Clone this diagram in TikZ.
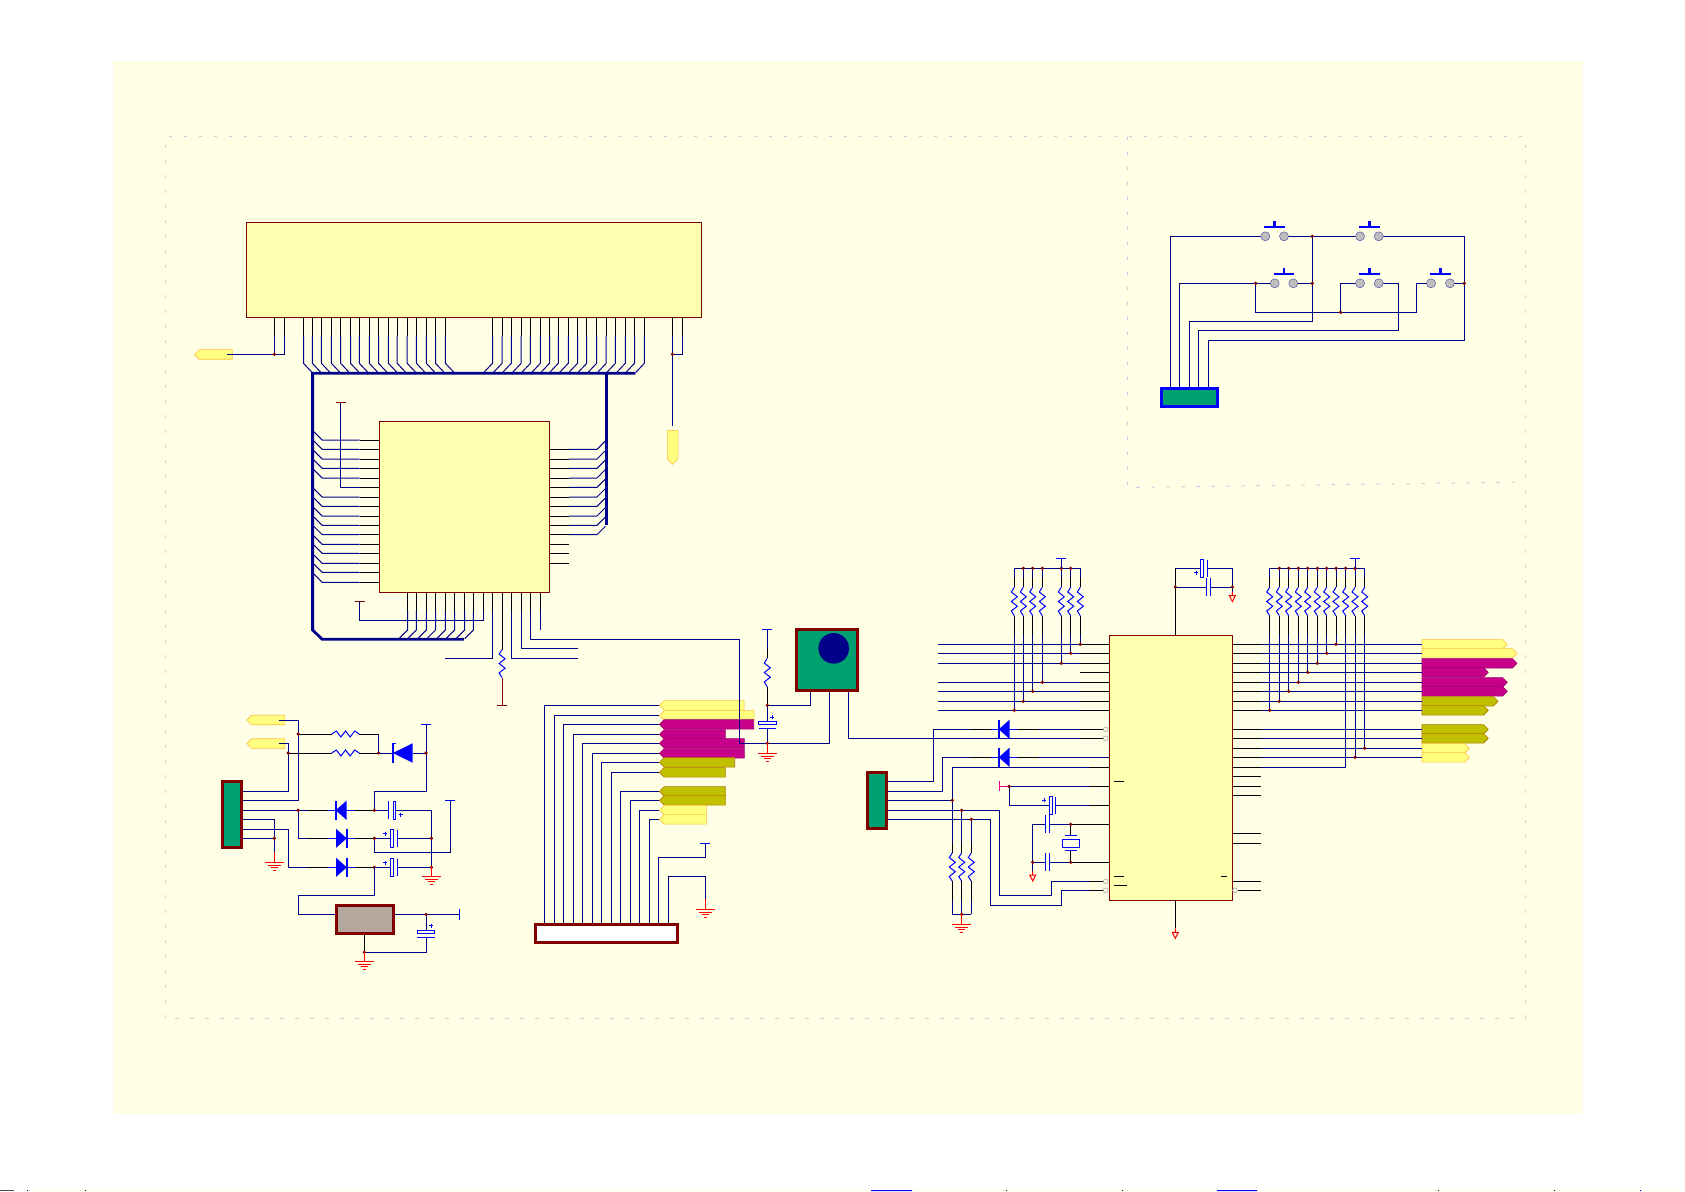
\documentclass[tikz,border=0pt]{standalone}
\usepackage{tikz}
\usetikzlibrary{shapes.symbols}
\definecolor{panelbg}{RGB}{255, 255, 230}
\definecolor{chipfill}{RGB}{255, 255, 176}
\definecolor{tagyel}{RGB}{255, 255, 128}
\definecolor{tagmag}{RGB}{198, 0, 136}
\definecolor{tagolv}{RGB}{192, 192, 0}
\definecolor{wirenavy}{RGB}{0, 0, 136}
\definecolor{darkred}{RGB}{128, 0, 0}
\definecolor{conngreen}{RGB}{0, 160, 112}
\definecolor{regfill}{RGB}{180, 168, 159}
\definecolor{framegray}{RGB}{205, 205, 228}
\tikzset{
  wire/.style={draw=wirenavy, line width=1pt},
  pinb/.style={draw=black, line width=0.9pt},
  bus/.style={draw=wirenavy, line width=2.8pt},
  part/.style={draw=blue, line width=1pt},
  chipbox/.style={draw=darkred, line width=1pt, fill=chipfill, inner sep=0pt},
  connbox/.style={draw=darkred, line width=3pt, fill=conngreen, inner sep=0pt},
  sigtag/.style={signal, inner sep=0pt, line width=0.6pt, minimum height=9.5pt, signal pointer angle=90},
  sigyel/.style={sigtag, fill=tagyel, draw=orange!50!tagyel},
  sigmag/.style={sigtag, fill=tagmag, draw=tagmag!80!black},
  sigolv/.style={sigtag, fill=tagolv, draw=tagolv!75!red!85!black},
}
\newcommand{\dotj}[2]{\fill[darkred] (#1,#2) circle (1.8pt);}
\newcommand{\resv}[4]{% x, wire top, body centre, wire bottom
  \draw[wire] (#1,#2) -- (#1,#3-24);
  \draw[pinb] (#1,#3-24) -- (#1,#3-14.2);
  \draw[part] (#1,#3-14.2) -- (#1-3,#3-9.5) -- (#1+3,#3-4.7) -- (#1-3,#3) -- (#1+3,#3+4.7) -- (#1-3,#3+9.5) -- (#1,#3+14.2);
  \draw[pinb] (#1,#3+14.2) -- (#1,#3+33);
  \draw[wire] (#1,#3+33) -- (#1,#4);}
\newcommand{\resh}[4]{% x left, centre, x right, y
  \draw[pinb] (#1,#4) -- (#2-13.8,#4);
  \draw[part] (#2-13.8,#4) -- (#2-9.2,#4-3) -- (#2-4.6,#4+3) -- (#2,#4-3) -- (#2+4.6,#4+3) -- (#2+9.2,#4-3) -- (#2+13.8,#4);
  \draw[pinb] (#2+13.8,#4) -- (#3,#4);}
\newcommand{\stubs}[3]{% left body edge, right body edge, y
  \draw[pinb] (#1-28,#3) -- (#1-8,#3);
  \draw[part] (#1-8,#3) -- (#1,#3);
  \draw[part] (#2,#3) -- (#2+8,#3);
  \draw[pinb] (#2+8,#3) -- (#2+28,#3);}
\newcommand{\diodel}[2]{% bar x, y
  \stubs{#1}{#1+10.8}{#2}
  \fill[blue] (#1,#2) -- (#1+10.8,#2-9.6) -- (#1+10.8,#2+9.6) -- cycle;
  \draw[blue, line width=1.6pt] (#1,#2-9.6) -- (#1,#2+9.6);}
\newcommand{\dioder}[2]{% base x, y
  \stubs{#1}{#1+10.8}{#2}
  \fill[blue] (#1+10.8,#2) -- (#1,#2-9.6) -- (#1,#2+9.6) -- cycle;
  \draw[blue, line width=1.6pt] (#1+10.8,#2-9.6) -- (#1+10.8,#2+9.6);}
\newcommand{\pcaph}[5]{% box x1, box x2, plate x, y, half height
  \fill[panelbg] (#1,#4-1) rectangle (#3,#4+1);
  \draw[part, fill=panelbg] (#1,#4-#5) rectangle (#2,#4+#5);
  \draw[part] (#3,#4-#5) -- (#3,#4+#5);}
\newcommand{\pcapv}[4]{% x, box y1, box y2, plate y
  \fill[panelbg] (#1-1,#2) rectangle (#1+1,#4);
  \draw[part, fill=panelbg] (#1-8.7,#2) rectangle (#1+8.7,#3);
  \draw[part] (#1-8.7,#4) -- (#1+8.7,#4);}
\newcommand{\caph}[3]{% plate x1, plate x2, y
  \fill[panelbg] (#1,#3-1) rectangle (#2,#3+1);
  \draw[part] (#1,#3-9) -- (#1,#3+9);
  \draw[part] (#2,#3-9) -- (#2,#3+9);}
\newcommand{\plusm}[2]{\draw[part] (#1-2,#2) -- (#1+2,#2) (#1,#2-2) -- (#1,#2+2);}
\newcommand{\gnd}[2]{% x, y of top bar
  \draw[red, line width=1pt] (#1,#2-10) -- (#1,#2)
    (#1-9.6,#2) -- (#1+9.6,#2) (#1-6.3,#2+3) -- (#1+6.3,#2+3)
    (#1-3.4,#2+5.6) -- (#1+3.4,#2+5.6) (#1-1.4,#2+8.2) -- (#1+1.4,#2+8.2);}
\newcommand{\gtri}[2]{% x, y of triangle top
  \draw[red, line width=1pt] (#1,#2-4) -- (#1,#2) (#1-3,#2) -- (#1+3,#2) -- (#1,#2+6) -- cycle;}
\newcommand{\tbar}[3]{\draw[#3, line width=1pt] (#1-5,#2) -- (#1+5,#2);}
\newcommand{\swt}[3]{% circle x1, circle x2, y
  \draw[blue!35!gray, fill=black!25, line width=0.5pt] (#1,#3) circle (4.5pt) (#2,#3) circle (4.5pt);
  \draw[blue, line width=2.4pt] (#1-1,#3-9.4) -- (#2+1,#3-9.4);
  \draw[blue, line width=2.4pt] ({(#1+#2)/2},#3-9.4) -- ({(#1+#2)/2},#3-15.3);}
\newcommand{\holc}[2]{\draw[black!35, fill=panelbg, line width=0.6pt] (#1,#2) circle (2.4pt);}

\begin{document}
\begin{tikzpicture}[x=1pt, y=-1pt]
\useasboundingbox (0,0) rectangle (1685,1191);
\fill[white] (0,0) rectangle (1685,1191);
\fill[panelbg] (113,61) rectangle (1583.3,1114);
% bottom row
\fill[panelbg] (28,1190) rectangle (1685,1191);
\fill[blue] (871,1190) rectangle (912,1191) (1217,1190) rectangle (1257,1191) (1640,1190) rectangle (1641,1191);
\foreach \tx in {27,85,1006,1122,1438,1554}
  \fill[black] (\tx,1190) rectangle (\tx+1,1191);
\fill[black!70] (0,1190) rectangle (14,1191);

% frames
\draw[framegray, line width=1pt, dash pattern=on 3.5pt off 11.5pt] (165.4,1018.3) -- (165.4,136.6) -- (1525.4,136.6) -- (1525.4,1018.3) -- cycle;
\draw[framegray, line width=1pt, dash pattern=on 3.5pt off 11.5pt] (1127.3,136.6) -- (1127.3,487.5) -- (1525.4,482);

% chips and connectors
\node[chipbox, minimum width=455pt, minimum height=95pt] (lcd) at (474,269.8) {};
\node[chipbox, minimum width=170.3pt, minimum height=171.4pt] (mcu) at (464.35,507) {};
\node[chipbox, minimum width=123pt, minimum height=265pt] (dec) at (1170.8,767.8) {};
\node[connbox, minimum width=19pt, minimum height=66pt] (jpwr) at (232.2,814.5) {};
\node[connbox, minimum width=18.5pt, minimum height=56pt] (jir) at (877,800.8) {};
\node[connbox, draw=blue, minimum width=56pt, minimum height=18.5pt] (jkey) at (1189.5,397.4) {};
\node[connbox, fill=regfill, minimum width=56.5pt, minimum height=27.5pt] (reg) at (365.1,919.3) {};
\node[connbox, fill=white, minimum width=141.5pt, minimum height=17.5pt] (jfpc) at (606.5,933.4) {};
\node[connbox, minimum width=60.5pt, minimum height=61pt] (tuner) at (826.8,660.2) {};
\fill[wirenavy] (833.7,648.3) circle (15.3pt);

% signal tags
\node[sigyel, signal to=west, anchor=west, minimum width=38pt] (ttop) at (194,354.5) {};
\node[sigyel, signal to=south, anchor=north, minimum width=10.7pt, minimum height=28.7pt] (tdown) at (672.7,430) {};
\node[sigyel, signal to=west, anchor=west, minimum width=38pt] (tpa) at (246.4,720) {};
\node[sigyel, signal to=west, anchor=west, minimum width=38pt] (tpb) at (246.4,743.5) {};
\foreach \ti/\ty/\tw/\ts in {1/705.3/84.7/sigyel, 2/715.3/94.7/sigyel, 3/724.3/94.3/sigmag, 4/734.3/66/sigmag,
    5/743.3/85/sigmag, 6/753.3/85/sigmag, 7/762.3/75.3/sigolv, 8/772.3/66/sigolv,
    9/791.3/66/sigolv, 10/800.3/66/sigolv, 11/810.3/47/sigyel, 12/819.3/47/sigyel}
  \node[\ts, signal to=west, anchor=west, minimum width=\tw pt] (tl\ti) at (659,\ty) {};
\foreach \ti/\ty/\tw/\ts in {1/644.3/85.3/sigyel, 2/653.3/95/sigyel, 3/663.3/95/sigmag, 4/672.3/66.3/sigmag,
    5/682.3/85.3/sigmag, 6/691.3/85.3/sigmag, 7/701.3/76/sigolv, 8/710.3/66.3/sigolv,
    9/729.3/66.3/sigolv, 10/738.3/66.3/sigolv, 11/748.3/47.3/sigyel, 12/757.3/47.3/sigyel}
  \node[\ts, signal to=east, anchor=west, minimum width=\tw pt] (tr\ti) at (1421.7,\ty) {};

% lcd pins and bus entries
\foreach \px in {303.5,312.3,321.4,331.4,340.6,350.5,359.3,369.3,378.5,388.4,397.2,407.2,416.4,426.3,435.5,445.4} {
  \draw[pinb] (\px,317.3) -- (\px,335.7);
  \draw[wire] (\px,335.7) -- (\px,363.3) -- (\px+8.7,372.5);
}
\foreach \px in {492.5,502.1,511.3,521.2,530.4,540.4,549.5,558.3,568.3,577.5,586.7,596.6,606.2,615.4,625.3,634.5,644.4} {
  \draw[pinb] (\px,317.3) -- (\px,335.7);
  \draw[wire] (\px,335.7) -- (\px,363.3) -- (\px-8.7,372.5);
}
\foreach \px in {274.4,284.3,672.4,682.3}
  \draw[pinb] (\px,317.3) -- (\px,335.7);
\draw[wire] (226.9,354.3) -- (284.3,354.3) -- (284.3,335.7);
\draw[wire] (274.4,335.7) -- (274.4,354.3);
\dotj{274.4}{354.3}
\draw[wire] (682.3,335.7) -- (682.3,354.3) -- (672.4,354.3);
\draw[wire] (672.4,335.7) -- (672.4,426);
\dotj{672.4}{354.3}

% mcu pins
\foreach \py in {440,449.3,459,468.3,478,497,506.3,516,525.3,534.7,544.3,553.3,563.3,572.3,582.3} {
  \draw[pinb] (379.2,\py) -- (359.7,\py);
  \draw[wire] (359.7,\py) -- (322.2,\py) -- (313.8,\py-8.4);
}
\draw[pinb] (379.2,487.3) -- (359.7,487.3);
\draw[wire] (359.7,487.3) -- (340.6,487.3) -- (340.6,402.3);
\tbar{340.6}{402.3}{darkred}
\foreach \py in {449.3,459,468.3,478,487.3,497,506.3,516,525.3,534.7} {
  \draw[pinb] (549.5,\py) -- (569,\py);
  \draw[wire] (569,\py) -- (597,\py) -- (605.4,\py-8.4);
}
\foreach \py in {544.3,553.3,563.3}
  \draw[pinb] (549.5,\py) -- (569,\py);
\foreach \px in {407.6,416.4,426.3,435.5,445.4,454.6,464.6,473.4} {
  \draw[pinb] (\px,592.7) -- (\px,611);
  \draw[wire] (\px,611) -- (\px,630) -- (\px-8.6,638.6);
}
\foreach \px in {483.3,492.5,502.1,511.3,521.2,530.4,540.4}
  \draw[pinb] (\px,592.7) -- (\px,611);
\draw[wire] (483.3,611) -- (483.3,620.3) -- (359.7,620.3) -- (359.7,601.3);
\tbar{359.7}{601.3}{darkred}
\draw[wire] (492.5,611) -- (492.5,658.3) -- (444.7,658.3);
\draw[wire] (511.3,611) -- (511.3,658.3) -- (577.9,658.3);
\draw[wire] (521.2,611) -- (521.2,648.3) -- (577.9,648.3);
\draw[wire] (540.4,611) -- (540.4,630);
\draw[pinb] (502.1,611) -- (502.1,649.5);
\draw[part] (502.1,649.5) -- (499.1,654) -- (505.1,658.8) -- (499.1,663.5) -- (505.1,668.2) -- (499.1,673) -- (502.1,677.5);
\draw[darkred, line width=1pt] (502.1,677.5) -- (502.1,705);
\tbar{502.1}{705}{darkred}
\draw[wire] (530.4,611) -- (530.4,639.3) -- (739.3,639.3) -- (739.3,743.3) -- (829.3,743.3) -- (tuner.south -| 829.3,0);
\draw[bus] (635.3,373.3) -- (312.6,373.3) -- (312.6,630) -- (322.2,639.3) -- (463.8,639.3);
\draw[bus] (606.2,373.3) -- (606.2,525);

% power input
\draw[wire] (278.6,720.3) -- (298.2,720.3) -- (298.2,800.3) -- (jpwr.east |- 0,800.3);
\draw[wire] (278.6,743.3) -- (288.2,743.3) -- (288.2,791.3) -- (jpwr.east |- 0,791.3);
\resh{298.2}{345.5}{378.6}{734}
\draw[wire] (378.6,734) -- (378.6,753);
\resh{288.2}{345.5}{378.6}{753}
\dotj{298.2}{734}
\dotj{288.2}{753}
\dotj{378.6}{753}
\draw[wire] (378.6,753) -- (392.9,753) (412.5,753) -- (426,753);
\draw[part, line width=1.2pt] (396,743.3) -- (392.9,743.3) -- (392.9,762.7);
\fill[blue] (392.9,753) -- (412.5,743.3) -- (412.5,762.7) -- cycle;
\draw[wire] (426,724.3) -- (426,791.3) -- (374.3,791.3) -- (374.3,810.3);
\draw[part] (421,724.3) -- (431,724.3);
\dotj{426}{753}
\draw[wire] (jpwr.east |- 0,810.3) -- (431.4,810.3) -- (431.4,866);
\draw[wire] (298.2,810.3) -- (298.2,838.3) -- (431.4,838.3);
\draw[wire] (jpwr.east |- 0,829.7) -- (288.2,829.7) -- (288.2,867.3) -- (431.4,867.3);
\draw[wire] (374.3,838.3) -- (374.3,852.3) -- (450.4,852.3) -- (450.4,800.3);
\draw[part] (445.4,800.3) -- (455.4,800.3);
\draw[wire] (jpwr.east |- 0,819.7) -- (274.3,819.7) -- (274.3,852);
\draw[wire] (jpwr.east |- 0,838.3) -- (274.3,838.3);
\dotj{298.2}{810.3}
\dotj{274.3}{838.3}
\gnd{274.3}{862}
\diodel{335.7}{810.3}
\dioder{336}{838.3}
\dioder{336}{867.3}
\pcaph{393}{395.7}{388.6}{810.3}{9}
\plusm{400.7}{814.7}
\pcaph{390.4}{393.2}{397.1}{838.3}{8.7}
\plusm{385.4}{833.7}
\pcaph{390.4}{393.2}{397.1}{867.3}{8.7}
\plusm{385.4}{862.7}
\foreach \jx/\jy in {374.3/810.3, 374.3/838.3, 374.3/867.3, 431.4/838.3, 431.4/867.3} {
  \dotj{\jx}{\jy}
}
\gnd{431.4}{876}

% regulator
\draw[wire] (374.3,867.3) -- (374.3,895.3) -- (298.2,895.3) -- (298.2,914.3) -- (reg.west |- 0,914.3);
\draw[wire] (reg.east |- 0,914.3) -- (459.3,914.3);
\draw[part] (459.3,909.3) -- (459.3,919.7);
\draw[wire] (426,914.3) -- (426,952.3) -- (364.3,952.3);
\pcapv{426}{930.3}{933.7}{937}
\plusm{431}{925.7}
\draw[pinb] (reg.south -| 364.3,0) -- (364.3,952.3);
\dotj{426}{914.3}
\dotj{364.3}{952.3}
\gnd{364.3}{961.3}

% flat cable
\foreach \wx/\ti/\wy in {544.3/1/705.3, 554.3/2/715.3, 563.3/3/724.3, 573.3/4/734.3, 582.3/5/743.3, 592.3/6/753.3,
    601.3/7/762.3, 611.3/8/772.3, 620.3/9/791.3, 630.3/10/800.3, 639.3/11/810.3, 649.3/12/819.3}
  \draw[wire] (\wx,923.3) -- (\wx,\wy) -- (tl\ti.west);
\draw[wire] (658.3,923.3) -- (658.3,857.3) -- (705.3,857.3) -- (705.3,843.3);
\draw[part] (700.3,843.3) -- (710.3,843.3);
\draw[wire] (668.3,923.3) -- (668.3,876.3) -- (705.3,876.3) -- (705.3,899.3);
\gnd{705.3}{909.3}

% tuner bias
\resv{767.3}{629.3}{672.5}{743.3}
\draw[part] (762.3,629.3) -- (772.3,629.3);
\pcapv{767.3}{721.3}{724.7}{728.3}
\plusm{772.3}{717.3}
\draw[wire] (767.3,705.3) -- (810.3,705.3) -- (tuner.south -| 810.3,0);
\dotj{767.3}{705.3}
\dotj{767.3}{743.3}
\gnd{767.3}{753.3}
\draw[wire] (tuner.south -| 848.3,0) -- (848.3,738.3) -- (1103,738.3);
\holc{1105.7}{738.3}

% decoder left side
\foreach \py in {644.3,653.3,663.3,682.3,691.3,701.3,710.3} {
  \draw[wire] (937.7,\py) -- (1080,\py);
  \draw[pinb] (1080,\py) -- (dec.west |- 0,\py);
}
\draw[pinb] (1080,672.3) -- (dec.west |- 0,672.3);
\draw[wire] (1014.3,568.3) -- (1080.3,568.3);
\foreach \rx/\ry in {1014.3/710.3, 1023.3/701.3, 1032.7/691.3, 1042.3/682.3, 1061.3/663.3, 1070.7/653.3, 1080.3/644.3} {
  \resv{\rx}{568.3}{601.5}{\ry}
  \dotj{\rx}{\ry}
}
\foreach \jx in {1023.3,1032.7,1042.3,1061.3,1070.7} {
  \dotj{\jx}{568.3}
}
\draw[wire] (1061.3,558.3) -- (1061.3,568.3);
\draw[part] (1056.3,558.3) -- (1066.3,558.3);

% decoder power
\draw[wire] (1175.3,568.3) -- (1232.3,568.3) -- (1232.3,595);
\draw[wire] (1175.3,587) -- (1232.3,587);
\draw[pinb] (1175.3,635.3) -- (1175.3,568.3);
\pcaph{1200.3}{1203.3}{1207.7}{568.3}{8.7}
\plusm{1196}{572.7}
\caph{1206.3}{1210.7}{587}
\dotj{1175.3}{587}
\dotj{1232.3}{587}
\gtri{1232.3}{595.5}
\draw[pinb] (1175.3,900.3) -- (1175.3,928);
\gtri{1175.3}{932.3}

% receiver connector
\draw[wire] (jir.east |- 0,781) -- (933.3,781) -- (933.3,729.3) -- (1103,729.3);
\draw[wire] (jir.east |- 0,791) -- (942.3,791) -- (942.3,757.3) -- (1109.3,757.3);
\draw[wire] (jir.east |- 0,800.3) -- (952.3,800.3) -- (952.3,767.3) -- (1109.3,767.3);
\draw[wire] (jir.east |- 0,810.3) -- (999.3,810.3) -- (999.3,895.3) -- (1051.3,895.3) -- (1051.3,881.3) -- (1103,881.3);
\draw[wire] (jir.east |- 0,819.3) -- (990.3,819.3) -- (990.3,905.3) -- (1061.3,905.3) -- (1061.3,890.3) -- (1103,890.3);
\diodel{998.7}{729.3}
\diodel{998.7}{757.3}
\draw[pinb] (1090,767.3) -- (dec.west |- 0,767.3);
\draw[pinb] (1080,729.3) -- (1103,729.3);
\draw[pinb] (1080,738.3) -- (1103,738.3);
\draw[pinb] (1090,881.3) -- (1103,881.3);
\draw[pinb] (1090,890.3) -- (1103,890.3);
\foreach \py in {729.3,881.3,890.3} {
  \holc{1105.7}{\py}
}
\resv{952.3}{800.3}{867}{914.3}
\resv{961.7}{810.3}{867}{914.3}
\resv{971.3}{819.3}{867}{914.3}
\draw[wire] (952.3,914.3) -- (971.3,914.3);
\foreach \jx/\jy in {952.3/800.3, 961.7/810.3, 971.3/819.3, 961.7/914.3} {
  \dotj{\jx}{\jy}
}
\gnd{961.7}{924}

% reset and crystal
\draw[magenta, line width=1pt] (999.3,780.7) -- (999.3,791.3) (999.3,786.3) -- (1009,786.3);
\draw[wire] (1009,786.3) -- (1090,786.3);
\draw[pinb] (1090,786.3) -- (dec.west |- 0,786.3);
\draw[wire] (1009,786.3) -- (1009,805.3) -- (1090,805.3);
\draw[pinb] (1090,805.3) -- (dec.west |- 0,805.3);
\pcaph{1049.3}{1052}{1055.3}{805.3}{8.7}
\plusm{1044.3}{800.3}
\dotj{1009}{786.3}
\draw[wire] (1032.7,871) -- (1032.7,824.3) -- (1090,824.3);
\draw[pinb] (1072,824.3) -- (dec.west |- 0,824.3);
\draw[wire] (1032.7,862.3) -- (1090,862.3);
\draw[pinb] (1072,862.3) -- (dec.west |- 0,862.3);
\caph{1045.3}{1049.3}{824.3}
\caph{1045.3}{1049.3}{862.3}
\draw[pinb] (1070.7,824.3) -- (1070.7,835.3);
\draw[pinb] (1070.7,850.3) -- (1070.7,862.3);
\draw[part] (1065,835.3) -- (1076.7,835.3) (1065,850.3) -- (1076.7,850.3);
\draw[part, fill=panelbg] (1062.3,839.3) rectangle (1079.7,847.7);
\dotj{1070.7}{824.3}
\dotj{1070.7}{862.3}
\dotj{1032.7}{862.3}
\gtri{1032.7}{875}
\draw[pinb] (1114,781) -- (1124,781) (1114,876.3) -- (1124,876.3) (1114,885.3) -- (1127,885.3) (1221.3,876.3) -- (1226.7,876.3);

% decoder right side
\foreach \ti/\py in {1/644.3, 2/653.3, 3/663.3, 4/672.3, 5/682.3, 6/691.3, 7/701.3, 8/710.3,
    9/729.3, 10/738.3, 11/748.3, 12/757.3} {
  \draw[pinb] (dec.east |- 0,\py) -- (1260.7,\py);
  \draw[wire] (1260.7,\py) -- (tr\ti.west);
}
\draw[pinb] (dec.east |- 0,767.3) -- (1260.7,767.3);
\draw[wire] (1260.7,767.3) -- (1345.7,767.3);
\foreach \py in {776.3,786.3,795.3,833.3,843.3,881.3}
  \draw[pinb] (dec.east |- 0,\py) -- (1260.7,\py);
\draw[pinb] (1237.5,890.3) -- (1260.7,890.3);
\holc{1235}{890.3}
\draw[wire] (1269.7,568.3) -- (1364.7,568.3);
\foreach \rx/\ry in {1269.7/710.3, 1279.3/701.3, 1288.7/691.3, 1298.3/682.3, 1307.7/672.3, 1317.3/663.3, 1326.7/653.3,
    1336/644.3, 1355/757.3, 1364.7/748.3} {
  \resv{\rx}{568.3}{601.5}{\ry}
  \dotj{\rx}{\ry}
}
\resv{1345.7}{568.3}{601.5}{767.3}
\foreach \jx in {1279.3,1288.7,1298.3,1307.7,1317.3,1326.7,1336,1345.7,1355} {
  \dotj{\jx}{568.3}
}
\draw[wire] (1355,558.3) -- (1355,568.3);
\draw[part] (1350,558.3) -- (1360,558.3);

% keys
\draw[wire] (jkey.north -| 1170.3,0) -- (1170.3,236.3) -- (1265.3,236.3);
\draw[wire] (jkey.north -| 1179.3,0) -- (1179.3,283.3) -- (1274.7,283.3);
\draw[wire] (jkey.north -| 1189.3,0) -- (1189.3,321.3) -- (1312.3,321.3) -- (1312.3,236.3);
\draw[wire] (jkey.north -| 1198.3,0) -- (1198.3,330.3) -- (1398.3,330.3) -- (1398.3,283.3) -- (1378.7,283.3);
\draw[wire] (jkey.north -| 1208.3,0) -- (1208.3,340.3) -- (1464.3,340.3) -- (1464.3,236.3) -- (1378.7,236.3);
\draw[wire] (1284,236.3) -- (1360,236.3);
\draw[wire] (1293.3,283.3) -- (1312.3,283.3);
\draw[wire] (1255.7,283.3) -- (1255.7,312.3) -- (1416.3,312.3) -- (1416.3,283.3) -- (1431,283.3);
\draw[wire] (1340.7,312.3) -- (1340.7,283.3) -- (1360,283.3);
\draw[wire] (1450,283.3) -- (1464.3,283.3);
\swt{1265.3}{1284}{236.3}
\swt{1360}{1378.7}{236.3}
\swt{1274.7}{1293.3}{283.3}
\swt{1360}{1378.7}{283.3}
\swt{1431}{1450}{283.3}
\foreach \jx/\jy in {1312.3/236.3, 1312.3/283.3, 1464.3/283.3, 1255.7/283.3, 1340.7/312.3} {
  \dotj{\jx}{\jy}
}
\end{tikzpicture}
\end{document}
